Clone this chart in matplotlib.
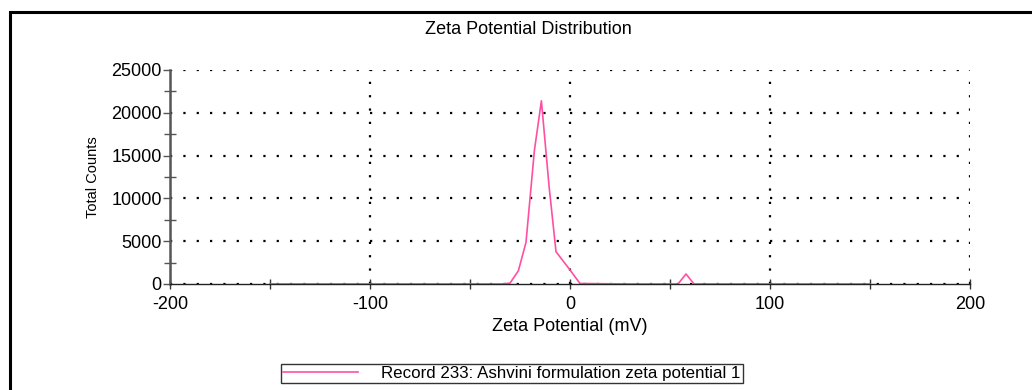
import matplotlib
matplotlib.use("Agg")
import matplotlib.pyplot as plt
from matplotlib.ticker import MultipleLocator
from matplotlib.patches import Rectangle

plt.rcParams['font.family'] = ['Liberation Sans', 'DejaVu Sans']
plt.rcParams['axes.unicode_minus'] = False

# zeta potential (mV) vs total counts
zeta = [-150, -100, -60, -34, -30, -25.8, -22, -17.8, -14.3, -10.5, -7, -1, 5,
        30, 54, 58, 62, 100, 150]
counts = [0, 0, 0, 0, 100, 1550, 4870, 15600, 21400, 11500, 3770, 1950, 60,
          0, 0, 1170, 0, 0, 0]
record = "Record 233: Ashvini formulation zeta potential 1"

pink = "#ff4fa3"

fig = plt.figure(figsize=(10.32, 3.9), dpi=100)
ax = fig.add_axes([170 / 1032, 106 / 390, 800 / 1032, 214 / 390])

line, = ax.plot(zeta, counts, color=pink, lw=1.2, label=record)

ax.set_xlim(-200, 200)
ax.set_ylim(0, 25000)
ax.xaxis.set_major_locator(MultipleLocator(100))
ax.xaxis.set_minor_locator(MultipleLocator(50))
ax.yaxis.set_major_locator(MultipleLocator(5000))
ax.yaxis.set_minor_locator(MultipleLocator(2500))

ax.grid(True, which='major', color='black', linestyle=(0, (1, 5)), lw=1.6)
ax.set_axisbelow(True)

for s in ['top', 'right']:
    ax.spines[s].set_visible(False)
ax.spines['left'].set_color('#555555')
ax.spines['left'].set_linewidth(1.8)
ax.spines['bottom'].set_color('#222222')
ax.spines['bottom'].set_linewidth(1.0)

ax.tick_params(axis='x', which='both', direction='inout', length=7, width=1,
               labelsize=13, pad=5, color='#333333')
ax.tick_params(axis='y', which='major', direction='out', length=5, width=1,
               labelsize=13, pad=1, color='#555555')
ax.tick_params(axis='y', which='minor', direction='inout', length=8, width=1,
               color='#555555')

fig.text(528 / 1032, 1 - 30 / 390, "Zeta Potential Distribution", fontsize=13,
         ha='center', va='center')
ax.set_xlabel("Zeta Potential (mV)", fontsize=13, labelpad=4)
ax.set_ylabel("Total Counts", fontsize=10.5, labelpad=8,
              family=['Liberation Sans Narrow', 'Liberation Sans'])

leg = fig.legend(handles=[line], loc='center', bbox_to_anchor=(512 / 1032, 1 - 373.5 / 390),
                 fontsize=12.2, frameon=True, fancybox=False, edgecolor='black',
                 handlelength=4.4, handletextpad=1.4, borderpad=0.12,
                 borderaxespad=0)
leg.get_frame().set_linewidth(1.0)

# outer frame of the report
fig.patches.append(Rectangle((10 / 1032, -0.1), 1.2, 1 - 12 / 390 + 0.1,
                             transform=fig.transFigure, fill=False,
                             edgecolor='black', lw=2.2))

fig.savefig("out.png", dpi=100)
